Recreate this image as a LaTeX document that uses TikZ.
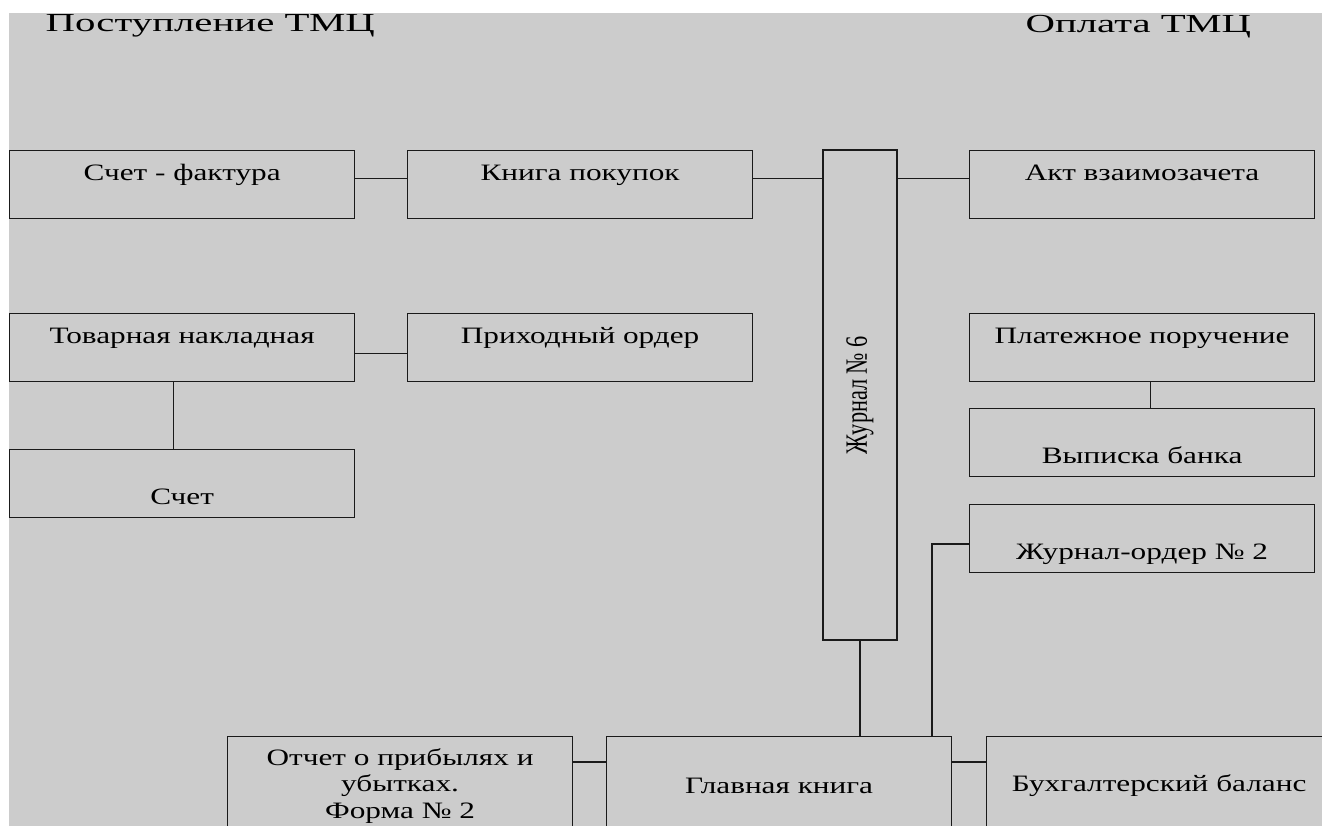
\documentclass[tikz,border=0pt]{standalone}
\usepackage{graphicx}
\usepackage{fontspec}
\setmainfont{Liberation Serif}
\newfontfamily\wideserif[FakeStretch=1.33]{Liberation Serif}
\newfontfamily\headserif[FakeStretch=1.57]{Liberation Serif}
\newfontfamily\narrowserif[FakeStretch=0.72]{Liberation Serif}
\usetikzlibrary{calc}

\definecolor{sheet}{HTML}{CCCCCC}
\definecolor{ink}{HTML}{1A1A1A}

\tikzset{
  doc/.style={draw=ink, line width=1.2pt, minimum width=345pt, inner sep=0pt,
    anchor=north west, font=\wideserif\fontsize{23.5}{27}\selectfont},
  upper/.style={text height=29.5pt, text depth=38.5pt},
  lower/.style={text height=55pt, text depth=13pt},
  ledger/.style={draw=ink, line width=1.2pt, minimum width=345pt, minimum height=98pt,
    inner sep=0pt, anchor=north west, align=center,
    font=\wideserif\fontsize{23.5}{26.5}\selectfont},
  wire/.style={draw=ink, line width=1.2pt},
  head/.style={anchor=base west, font=\headserif\fontsize{26}{30}\selectfont}
}

\begin{document}
\begin{tikzpicture}[x=1pt, y=-1pt]
      \useasboundingbox (0,0) rectangle (1322,826);
      \clip (0,0) rectangle (1322,826);
      \fill[sheet] (9,13) rectangle (1322,826);

      % headings
      \node[head] (income) at (42,32) {Поступление ТМЦ};
      \node[head] (payment) at (1022,33) {Оплата ТМЦ};

      % left column
      \node[doc, upper] (invoice) at (9,150) {Счет - фактура};
      \node[doc, upper] (waybill) at (9,313) {Товарная накладная};
      \node[doc, lower] (bill) at (9,449) {Счет};

      % middle column
      \node[doc, upper] (purchases) at (407,150) {Книга покупок};
      \node[doc, upper] (receipt) at (407,313) {Приходный ордер};

      % journal
      \node[draw=ink, line width=1.2pt, minimum width=74pt, minimum height=490pt, inner sep=0pt,
        font=\narrowserif\fontsize{31}{36}\selectfont] (journal) at (860,395)
        {\rotatebox{90}{Журнал № 6}};

      % right column
      \node[doc, upper] (offset) at (969,150) {Акт взаимозачета};
      \node[doc, upper] (order) at (969,313) {Платежное поручение};
      \node[doc, lower] (statement) at (969,408) {Выписка банка};
      \node[doc, lower] (jorder) at (969,504) {Журнал-ордер № 2};

      % bottom row
      \node[ledger] (report) at (227,736) {Отчет о прибылях и\\убытках.\\Форма № 2};
      \node[ledger] (ledgerbook) at (606,736) {Главная книга};
      \node[ledger] (balance) at (986,736) {Бухгалтерский баланс};

      \coordinate (bend) at (932,544);

      \draw[wire] ([yshift=6pt]invoice.east) -- ([yshift=6pt]purchases.west);
      \draw[wire] ([yshift=6pt]purchases.east) -- ([yshift=6pt]purchases.east -| journal.west);
      \draw[wire] ([yshift=6pt]offset.west -| journal.east) -- ([yshift=6pt]offset.west);
      \draw[wire] ([yshift=-6pt]waybill.east) -- ([yshift=-6pt]receipt.west);
      \draw[wire] ([xshift=-9pt]waybill.south) -- ([xshift=-9pt]bill.north);
      \draw[wire] ([xshift=8pt]order.south) -- ([xshift=8pt]statement.north);
      \draw[wire] (journal.south) -- (journal.south |- ledgerbook.north);
      \draw[wire] (jorder.west |- bend) -- (bend) -- (bend |- ledgerbook.north);
      \draw[wire] ([yshift=-26pt]report.north east) -- ([yshift=-26pt]ledgerbook.north west);
      \draw[wire] ([yshift=-26pt]ledgerbook.north east) -- ([yshift=-26pt]balance.north west);
    \end{tikzpicture}
\end{document}
